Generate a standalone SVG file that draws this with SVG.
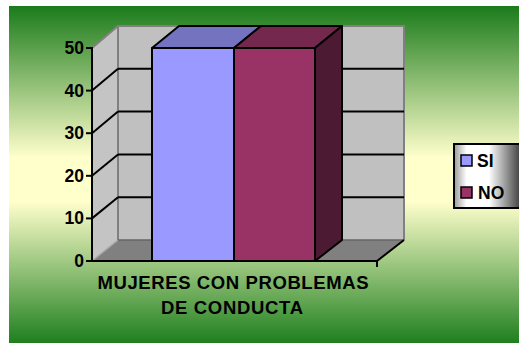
<svg xmlns="http://www.w3.org/2000/svg" width="519" height="343" viewBox="0 0 519 343">
  <defs>
    <linearGradient id="bg" x1="0" y1="0" x2="0" y2="1">
      <stop offset="0" stop-color="#1b7b1b"/>
      <stop offset="0.45" stop-color="#ffffcc"/>
      <stop offset="0.58" stop-color="#ffffcc"/>
      <stop offset="1" stop-color="#1f7f1f"/>
    </linearGradient>
    <linearGradient id="lg" x1="0" y1="0" x2="1" y2="0">
      <stop offset="0" stop-color="#9a9a9a"/>
      <stop offset="0.18" stop-color="#ffffff"/>
      <stop offset="0.5" stop-color="#ffffff"/>
      <stop offset="1" stop-color="#2a2a2a"/>
    </linearGradient>
    <style>
      text { font-family: "Liberation Sans", Arial, sans-serif; font-weight: bold; fill: #000; }
      .ylab { font-size: 17.5px; text-anchor: end; }
      .cat { font-size: 18.5px; text-anchor: middle; }
      .leg { font-size: 17.5px; }
      .grid { stroke: #000; stroke-width: 2; fill: none; }
      .wallEdge { stroke: #808080; stroke-width: 2; fill: none; }
      .edge { stroke: #000; stroke-width: 2; stroke-linejoin: round; }
      .axis { stroke: #000; stroke-width: 2; fill: none; }
    </style>
  </defs>

  <rect id="background" x="9" y="6" width="510" height="337" fill="url(#bg)"/>

  <g id="walls">
    <polygon points="118,26 404,26 404,240 118,240" fill="#c0c0c0"/>
    <polygon points="92,48 118,26 118,240 92,261" fill="#c4c4c4"/>
    <polygon points="92,261 118,240 404,240 377,261" fill="#808080"/>
    <line x1="92" y1="261" x2="118" y2="240" stroke="#a8a8a8" stroke-width="1.5"/>
    <polyline class="wallEdge" points="92,48 118,26 404,26 404,240"/>
    <line class="wallEdge" x1="118" y1="26" x2="118" y2="240"/>
    <line x1="118" y1="240" x2="404" y2="240" stroke="#666" stroke-width="1.5"/>
  </g>

  <g id="gridlines">
    <line class="grid" x1="92" y1="90.6" x2="118" y2="68.8"/>
    <line class="grid" x1="92" y1="133.2" x2="118" y2="111.6"/>
    <line class="grid" x1="92" y1="175.8" x2="118" y2="154.4"/>
    <line class="grid" x1="92" y1="218.4" x2="118" y2="197.2"/>
    <line class="grid" x1="118" y1="68.8" x2="404" y2="68.8"/>
    <line class="grid" x1="118" y1="111.6" x2="404" y2="111.6"/>
    <line class="grid" x1="118" y1="154.4" x2="404" y2="154.4"/>
    <line class="grid" x1="118" y1="197.2" x2="404" y2="197.2"/>
  </g>

  <g id="bar-si">
    <polygon class="edge" points="152,48 179,26 261,26 234,48" fill="#7373c0"/>
    <rect class="edge" x="152" y="48" width="82" height="213" fill="#9999ff"/>
  </g>

  <g id="bar-no">
    <polygon class="edge" points="234,48 261,26 342,26 315,48" fill="#74284e"/>
    <polygon class="edge" points="315,48 342,26 342,240 315,261" fill="#4c1a33"/>
    <rect class="edge" x="234" y="48" width="81" height="213" fill="#993366"/>
  </g>

  <g id="axis">
    <line class="axis" x1="92" y1="47" x2="92" y2="262"/>
    <line class="axis" x1="91" y1="261" x2="377" y2="261"/>
    <line class="axis" x1="377" y1="261" x2="404" y2="240"/>
    <line class="axis" x1="377" y1="261" x2="377" y2="267"/>
    <line class="axis" x1="86" y1="48" x2="92" y2="48"/>
    <line class="axis" x1="86" y1="90.6" x2="92" y2="90.6"/>
    <line class="axis" x1="86" y1="133.2" x2="92" y2="133.2"/>
    <line class="axis" x1="86" y1="175.8" x2="92" y2="175.8"/>
    <line class="axis" x1="86" y1="218.4" x2="92" y2="218.4"/>
    <line class="axis" x1="86" y1="261" x2="92" y2="261"/>
  </g>

  <g id="y-labels">
    <text class="ylab" x="84" y="54">50</text>
    <text class="ylab" x="84" y="96.6">40</text>
    <text class="ylab" x="84" y="139.2">30</text>
    <text class="ylab" x="84" y="181.8">20</text>
    <text class="ylab" x="84" y="224.4">10</text>
    <text class="ylab" x="84" y="267">0</text>
  </g>

  <g id="category-label">
    <text class="cat" x="233" y="288.7" textLength="271" lengthAdjust="spacing">MUJERES CON PROBLEMAS</text>
    <text class="cat" x="232" y="314" textLength="142" lengthAdjust="spacing">DE CONDUCTA</text>
  </g>

  <g id="legend">
    <rect x="454" y="144" width="70" height="64" fill="url(#lg)" stroke="#000" stroke-width="2"/>
    <g id="legend-si">
      <rect x="461" y="155" width="11" height="11" fill="#9999ff" stroke="#000" stroke-width="1.5"/>
      <text class="leg" x="477" y="167">SI</text>
    </g>
    <g id="legend-no">
      <rect x="461" y="187" width="11" height="11" fill="#993366" stroke="#000" stroke-width="1.5"/>
      <text class="leg" x="478" y="199">NO</text>
    </g>
  </g>
</svg>
